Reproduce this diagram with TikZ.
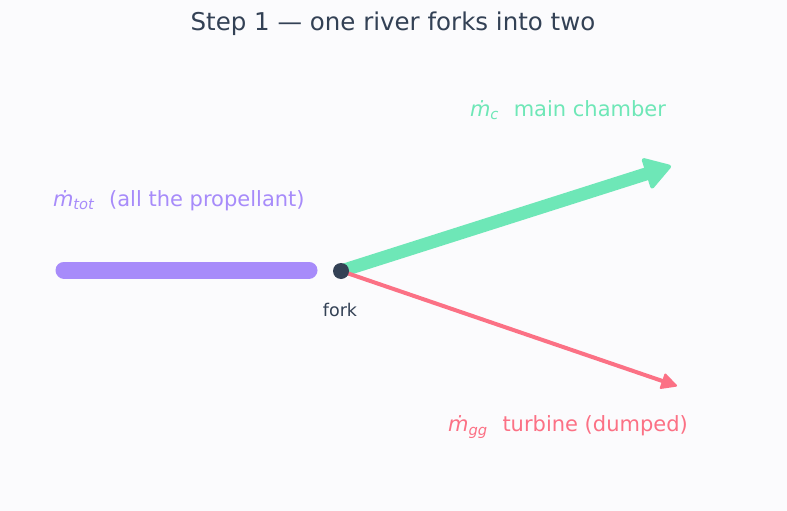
\documentclass[tikz,border=0pt]{standalone}
\usepackage{fontspec}
\setmainfont{DejaVu Sans}
\usetikzlibrary{arrows.meta}

\definecolor{bgcol}{HTML}{FBFBFD}
\definecolor{inkcol}{HTML}{334155}
\definecolor{totcol}{HTML}{A78BFA}
\definecolor{mccol}{HTML}{6EE7B7}
\definecolor{ggcol}{HTML}{FB7185}

\newcommand{\mflow}[1]{{\itshape ṁ\textsubscript{#1}}}

\begin{document}
\begin{tikzpicture}[x=1pt,y=-1pt,
  every node/.style={inner sep=0pt, outer sep=0pt},
  flowlabel/.style={font=\fontsize{21}{24}\selectfont}]
\useasboundingbox[fill=bgcol] (0,0) rectangle (787,511);

\node[text=inkcol, font=\fontsize{24.5}{28}\selectfont] (title) at (393,24) {Step 1 — one river forks into two};

% the incoming stream
\coordinate (totstart) at (64,270);
\coordinate (totend) at (309,270);
\draw[totcol, line width=17pt, line cap=round] (totstart) -- (totend);
\node[flowlabel, text=totcol, anchor=west] (totlabel) at (53,201) {\mflow{tot}\hspace{0.7em}(all the propellant)};

% the two branches
\coordinate (fork) at (341,271);
\coordinate (mc) at (671,166);
\coordinate (gg) at (677,386);
\draw[mccol, line width=13pt, -{Triangle[length=28pt,width=34pt,round,line width=4pt]}] (fork) -- (mc);
\draw[ggcol, line width=4pt, -{Triangle[length=17pt,width=17pt,round,line width=2pt]}] (fork) -- (gg);
\node[flowlabel, text=mccol] (mclabel) at (568,110) {\mflow{c}\hspace{0.7em}main chamber};
\node[flowlabel, text=ggcol] (gglabel) at (568,427) {\mflow{gg}\hspace{0.7em}turbine (dumped)};

\node[circle, fill=inkcol, minimum size=16pt] (forkdot) at (fork) {};
\node[text=inkcol, font=\fontsize{17.5}{20}\selectfont] (forklabel) at (340,310) {fork};
\end{tikzpicture}
\end{document}
